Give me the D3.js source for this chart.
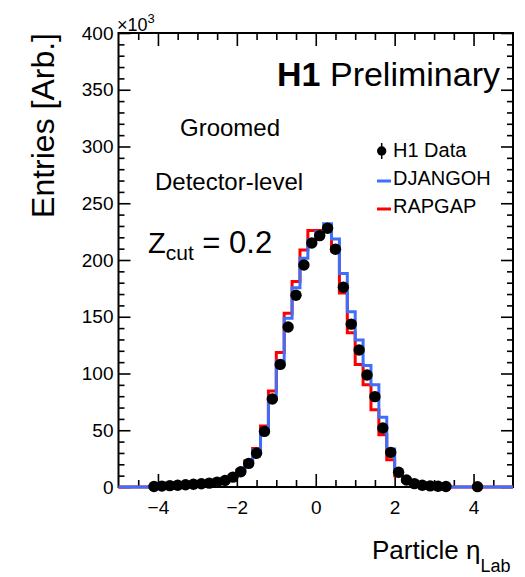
<!DOCTYPE html>
<html lang="en">
<head>
<meta charset="UTF-8">
<title>H1 Preliminary - Particle eta Lab</title>
<script src="https://d3js.org/d3.v7.min.js"></script>
<style>
    body, html { margin: 0; padding: 0; background: #fff; }
    svg text { font-family: "Liberation Sans", Arial, Helvetica, sans-serif; fill: #000; }
    .tick line { stroke: #000; stroke-width: 1.6px; }
</style>
</head>
<body>
<div id="chart"></div>
<script>
// bin centres of the 0.2 wide bins, -5 .. 5
const binCenters = [-4.9, -4.7, -4.5, -4.3, -4.1, -3.9, -3.7, -3.5, -3.3, -3.1,
    -2.9, -2.7, -2.5, -2.3, -2.1, -1.9, -1.7, -1.5, -1.3, -1.1,
    -0.9, -0.7, -0.5, -0.3, -0.1, 0.1, 0.3, 0.5, 0.7, 0.9,
    1.1, 1.3, 1.5, 1.7, 1.9, 2.1, 2.3, 2.5, 2.7, 2.9,
    3.1, 3.3, 3.5, 3.7, 3.9, 4.1, 4.3, 4.5, 4.7, 4.9];
const binWidth = 0.2;

// entries in units of 10^3
const djangoh = [0, 0, 0, 0, 0.5, 0.8, 1.1, 1.5, 2.0, 2.4,
    2.9, 3.5, 4.4, 6.0, 9.0, 14, 21, 32.6, 50.2, 79.6,
    111, 148.6, 175.5, 201.5, 217.6, 225, 232, 218.5, 188, 154.5,
    129.5, 107, 90, 61.4, 33.5, 12.5, 6.0, 3.0, 1.6, 1.0,
    0.7, 0.5, 0, 0, 0, 0, 0, 0, 0, 0];
const rapgap = [0, 0, 0, 0, 0.5, 0.8, 1.2, 1.6, 2.1, 2.6,
    3.1, 3.8, 4.8, 6.5, 10, 15, 23, 34, 53.7, 84.5,
    118.5, 153, 181, 208.8, 226, 226, 226, 208, 171, 136,
    108, 90, 68, 46, 24, 10, 5, 2.5, 1.3, 0.9,
    0.6, 0.4, 0, 0, 0, 0, 0, 0, 0, 0];

const dataX = [-4.1, -3.9, -3.7, -3.5, -3.3, -3.1, -2.9, -2.7, -2.5, -2.3,
    -2.1, -1.9, -1.7, -1.5, -1.3, -1.1, -0.9, -0.7, -0.5, -0.3,
    -0.1, 0.1, 0.3, 0.5, 0.7, 0.9, 1.1, 1.3, 1.5, 1.7,
    1.9, 2.1, 2.3, 2.5, 2.7, 2.9, 3.1, 3.3, 4.1];
const dataY = [0.5, 0.8, 1.2, 1.6, 2.0, 2.4, 2.9, 3.4, 4.3, 5.8,
    8.7, 13.5, 20.8, 29.7, 49, 77.5, 108, 141, 169, 195.6,
    215, 221.5, 228, 209.5, 176, 143.5, 120.7, 98.7, 79.6, 52,
    30.5, 13, 6.2, 3.0, 1.5, 1.0, 0.7, 0.5, 0.3];

const xMajor = [-4, -2, 0, 2, 4];
const xMajorLabels = ["\u22124", "\u22122", "0", "2", "4"];
const xMinor = [-4.5, -3.5, -3, -2.5, -1.5, -1, -0.5, 0.5, 1, 1.5, 2.5, 3, 3.5, 4.5];
const yMajor = [0, 50, 100, 150, 200, 250, 300, 350, 400];
const yMinor = [10, 20, 30, 40, 60, 70, 80, 90, 110, 120, 130, 140, 160, 170, 180, 190,
    210, 220, 230, 240, 260, 270, 280, 290, 310, 320, 330, 340, 360, 370, 380, 390];

const width = 525, height = 577;
const frame = { left: 118.5, right: 513, top: 33, bottom: 487 };

const svg = d3.select("#chart").append("svg")
    .attr("width", width)
    .attr("height", height);

const x = d3.scaleLinear().domain([-5, 5]).range([frame.left, frame.right]);
const y = d3.scaleLinear().domain([0, 400]).range([frame.bottom, frame.top]);

const fw = frame.right - frame.left, fh = frame.bottom - frame.top;

// axes, ticks pointing inwards on all four sides
function drawAxis(axis, tx, ty, labels) {
    const g = svg.append("g").attr("transform", `translate(${tx},${ty})`).call(axis);
    g.select(".domain").remove();
    g.selectAll("text").style("font-size", "19px");
    if (!labels) g.selectAll("text").remove();
    return g;
}

drawAxis(d3.axisBottom(x).tickValues(xMajor).tickFormat((d, i) => xMajorLabels[i])
    .tickSizeInner(-13).tickPadding(14), 0, frame.bottom, true);
drawAxis(d3.axisBottom(x).tickValues(xMinor).tickSizeInner(-7), 0, frame.bottom, false);
drawAxis(d3.axisTop(x).tickValues(xMajor).tickSizeInner(-13), 0, frame.top, false);
drawAxis(d3.axisTop(x).tickValues(xMinor).tickSizeInner(-7), 0, frame.top, false);

drawAxis(d3.axisLeft(y).tickValues(yMajor).tickFormat(d3.format("d"))
    .tickSizeInner(-12).tickPadding(5), frame.left, 0, true);
drawAxis(d3.axisLeft(y).tickValues(yMinor).tickSizeInner(-6), frame.left, 0, false);
drawAxis(d3.axisRight(y).tickValues(yMajor).tickSizeInner(-12), frame.right, 0, false);
drawAxis(d3.axisRight(y).tickValues(yMinor).tickSizeInner(-6), frame.right, 0, false);

svg.append("rect")
    .attr("x", frame.left).attr("y", frame.top)
    .attr("width", fw).attr("height", fh)
    .attr("fill", "none").attr("stroke", "#000").attr("stroke-width", 2);

// step histograms
function stepPoints(values) {
    const pts = [];
    binCenters.forEach((c, i) => {
        pts.push([c - binWidth / 2, values[i]]);
        pts.push([c + binWidth / 2, values[i]]);
    });
    return pts;
}
const line = d3.line().x(d => x(d[0])).y(d => y(d[1]));

svg.append("path").attr("d", line(stepPoints(rapgap)))
    .attr("fill", "none").attr("stroke", "#ff0000").attr("stroke-width", 3);
svg.append("path").attr("d", line(stepPoints(djangoh)))
    .attr("fill", "none").attr("stroke", "#3f6ff8").attr("stroke-width", 3);

// data points
svg.append("g").selectAll("circle")
    .data(dataX)
    .enter().append("circle")
    .attr("cx", d => x(d))
    .attr("cy", (d, i) => y(dataY[i]))
    .attr("r", 5.7)
    .attr("fill", "#000");

// axis titles
svg.append("text")
    .attr("transform", `translate(54,${frame.top}) rotate(-90)`)
    .attr("text-anchor", "end")
    .style("font-size", "32px")
    .text("Entries [Arb.]");

const exp = svg.append("text").attr("x", 117).attr("y", 31).style("font-size", "18px");
exp.append("tspan").text("\u00d710");
exp.append("tspan").attr("dy", -8).style("font-size", "13px").text("3");

const xt = svg.append("text").attr("x", 372).attr("y", 559).style("font-size", "26px");
xt.append("tspan").text("Particle \u03b7");
xt.append("tspan").attr("dy", 13).style("font-size", "18px").text("Lab");

// labels
const h1 = svg.append("text").attr("x", 500).attr("y", 86)
    .attr("text-anchor", "end").style("font-size", "34px");
h1.append("tspan").style("font-weight", "bold").text("H1");
h1.append("tspan").text(" Preliminary");

svg.append("text").attr("x", 180).attr("y", 136).style("font-size", "24px").text("Groomed");
svg.append("text").attr("x", 155).attr("y", 190).style("font-size", "24px").text("Detector-level");

const zc = svg.append("text").attr("x", 148).attr("y", 253).style("font-size", "29px");
zc.append("tspan").text("Z");
zc.append("tspan").attr("dy", 7).style("font-size", "21px").text("cut");
zc.append("tspan").attr("dy", -7).style("font-size", "31px").text(" = 0.2");

// legend
const legend = svg.append("g");
legend.append("line").attr("x1", 381.7).attr("x2", 381.7).attr("y1", 143).attr("y2", 159)
    .attr("stroke", "#000").attr("stroke-width", 1.5);
legend.append("circle").attr("cx", 381.7).attr("cy", 151).attr("r", 4.7).attr("fill", "#000");
legend.append("line").attr("x1", 377).attr("x2", 391).attr("y1", 181).attr("y2", 181)
    .attr("stroke", "#3f6ff8").attr("stroke-width", 3);
legend.append("line").attr("x1", 377).attr("x2", 391).attr("y1", 209).attr("y2", 209)
    .attr("stroke", "#ff0000").attr("stroke-width", 3);
legend.append("text").attr("x", 393).attr("y", 157).style("font-size", "20px").text("H1 Data");
legend.append("text").attr("x", 393).attr("y", 185).style("font-size", "20px").text("DJANGOH");
legend.append("text").attr("x", 393).attr("y", 213).style("font-size", "20px").text("RAPGAP");
</script>
</body>
</html>
